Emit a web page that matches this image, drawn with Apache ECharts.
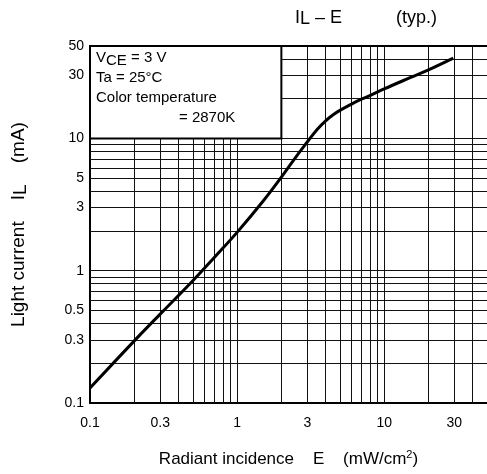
<!DOCTYPE html>
<html><head><meta charset="utf-8">
<script src="https://cdn.jsdelivr.net/npm/echarts@6/dist/echarts.min.js"></script>
<style>html,body{margin:0;padding:0;background:#fff}#c{width:487px;height:474px}</style>
</head><body><div id="c"></div>
<script>
// ---- data ----
const irradiance   = [0.1, 0.2, 0.3, 0.5, 0.7, 1, 1.5, 2, 2.5, 3, 3.5, 4, 4.5, 5, 6, 7, 8, 10, 15, 20, 29.5];
const lightCurrent = [0.13, 0.295, 0.47, 0.84, 1.26, 1.95, 3.35, 5.1, 7.2, 9.4, 11.7, 13.6, 15.1, 16.3, 18.2, 19.8, 21.1, 23.7, 28.8, 33, 40.5];
const xTickLabels = [0.1, 0.3, 1, 3, 10, 30];
const yTickLabels = [0.1, 0.3, 0.5, 1, 3, 5, 10, 30, 50];
const xGridValues = [0.2,0.3,0.4,0.5,0.6,0.7,0.8,0.9,1,2,3,4,5,6,7,8,9,10,20,30,40];
const yGridValues = [0.2,0.3,0.4,0.5,0.6,0.7,0.8,0.9,1,2,3,4,5,6,7,8,9,10,20,30,40];
const xRange = [0.1, 50];
const yRange = [0.1, 50];
const boxCorners = [[0.1, 10], [2, 50]];

const FONT = '"Liberation Sans", Arial, sans-serif';
const fmt = v => String(+(+v).toPrecision(3));

const chart = echarts.init(document.getElementById('c'), null, {renderer: 'canvas'});
const curve = irradiance.map((x, i) => [x, lightCurrent[i]]);

chart.setOption({
  animation: false,
  backgroundColor: '#fff',
  textStyle: {fontFamily: FONT, color: '#000'},
  title: [
    {text: 'I{s|L} – E', left: 295, top: 8, padding: 0,
     textStyle: {fontFamily: FONT, fontSize: 18, fontWeight: 'normal', color: '#000', lineHeight: 20,
       rich: {s: {fontFamily: FONT, fontSize: 18, color: '#000', lineHeight: 14, verticalAlign: 'bottom'}}}},
    {text: '(typ.)', left: 396, top: 8, padding: 0,
     textStyle: {fontFamily: FONT, fontSize: 18, fontWeight: 'normal', color: '#000', lineHeight: 20}}
  ],
  grid: {left: 86, top: 46, right: 0, bottom: 66, containLabel: false},
  xAxis: {
    type: 'log', logBase: 10, min: xRange[0], max: xRange[1],
    axisLine: {show: true, onZero: false, lineStyle: {color: '#000', width: 2}},
    axisTick: {show: false},
    splitLine: {show: false},
    axisLabel: {customValues: xTickLabels, formatter: fmt, color: '#000', fontSize: 14, fontFamily: FONT, margin: 13},
    name: 'Radiant incidence    E    (mW/cm{sup|2})',
    nameLocation: 'middle', nameGap: 46,
    nameTextStyle: {fontFamily: FONT, fontSize: 17, color: '#000', lineHeight: 20,
      rich: {sup: {fontFamily: FONT, fontSize: 11, color: '#000', lineHeight: 11, verticalAlign: 'top'}}}
  },
  yAxis: {
    type: 'log', logBase: 10, min: yRange[0], max: yRange[1],
    axisLine: {show: true, onZero: false, lineStyle: {color: '#000', width: 2}},
    axisTick: {show: false},
    splitLine: {show: false},
    axisLabel: {customValues: yTickLabels, formatter: fmt, color: '#000', fontSize: 14, fontFamily: FONT, margin: 6},
    name: 'Light current    I{s|L}    (mA)',
    nameLocation: 'middle', nameGap: 60,
    nameTextStyle: {fontFamily: FONT, fontSize: 19, color: '#000', lineHeight: 22,
      rich: {s: {fontFamily: FONT, fontSize: 19, color: '#000', lineHeight: 16, verticalAlign: 'bottom'}}}
  },
  series: [
    {
      type: 'line', data: [], silent: true, z: 1,
      markLine: {
        silent: true, symbol: 'none', z: 1, animation: false,
        label: {show: false},
        lineStyle: {color: '#111', width: 1, type: 'solid'},
        data: xGridValues.map(v => ({xAxis: v})).concat(yGridValues.map(v => ({yAxis: v})))
      }
    },
    {
      type: 'line', data: [], silent: true, z: 2,
      markArea: {
        silent: true, z: 2, animation: false,
        itemStyle: {color: '#fff', borderColor: '#000', borderWidth: 2, opacity: 1},
        label: {
          show: true, position: 'insideTopLeft', distance: 0, padding: [3, 0, 0, 7],
          formatter: '{n|V}{s|CE}{n| = 3 V}\n{n|Ta = 25°C}\n{n|Color temperature}\n{ind|= 2870K}',
          rich: {
            n: {fontFamily: FONT, fontSize: 15, color: '#000', lineHeight: 20},
            s: {fontFamily: FONT, fontSize: 15, color: '#000', lineHeight: 14, verticalAlign: 'bottom'},
            ind: {fontFamily: FONT, fontSize: 15, color: '#000', lineHeight: 20, padding: [0, 0, 0, 83]}
          }
        },
        data: [[{coord: boxCorners[0]}, {coord: boxCorners[1]}]]
      }
    },
    {
      type: 'line', data: curve, z: 3, smooth: 0.4, showSymbol: false, symbol: 'none',
      lineStyle: {color: '#000', width: 3}, silent: true,
      markLine: {
        silent: true, symbol: 'none', z: 4, animation: false, label: {show: false},
        lineStyle: {color: '#000', width: 2, type: 'solid'},
        data: [{yAxis: yRange[1]}]
      }
    }
  ]
});
</script>
</body></html>
